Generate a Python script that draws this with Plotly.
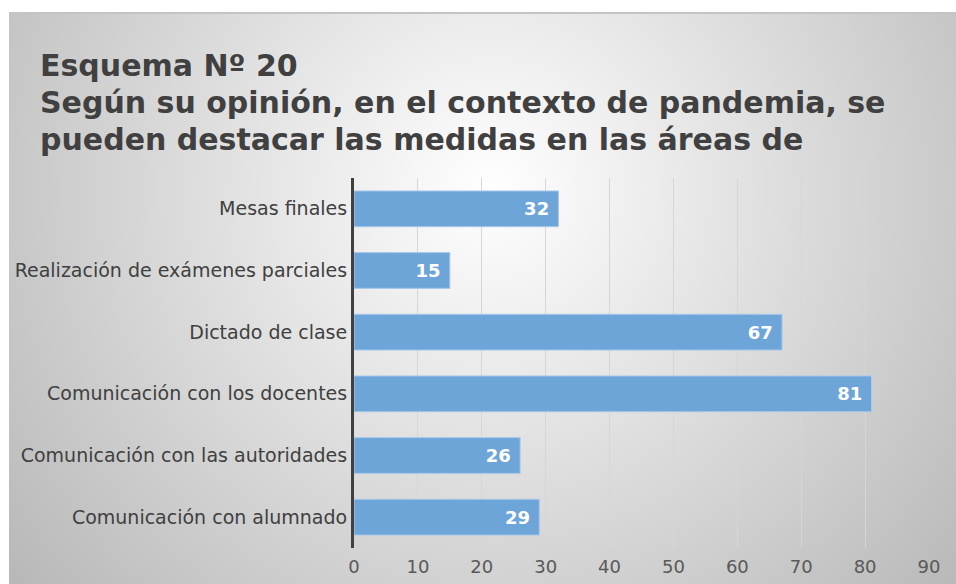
import numpy as np
import plotly.graph_objects as go

# Survey answers (count of responses per area)
categories = [
    "Mesas finales",
    "Realización de exámenes parciales",
    "Dictado de clase",
    "Comunicación con los docentes",
    "Comunicación con las autoridades",
    "Comunicación con alumnado",
]
values = [32, 15, 67, 81, 26, 29]
x_ticks = [0, 10, 20, 30, 40, 50, 60, 70, 80, 90]

title_lines = [
    "Esquema Nº 20",
    "Según su opinión, en el contexto de pandemia, se",
    "pueden destacar las medidas en las áreas de",
]

W, H = 956, 584
FONT = "DejaVu Sans"

# Radial grey background (light centre, darker towards the edges)
gx = np.arange(-16, W + 33, 16)
gy = np.arange(-16, H + 33, 16)
cx, cy = 490, 190
dist = np.sqrt((gx[None, :] - cx) ** 2 + (gy[:, None] - cy) ** 2)
shade = np.clip(255 - 0.115 * dist, 0, 255)

fig = go.Figure()

fig.add_trace(go.Heatmap(
    x=gx, y=gy, z=shade, zmin=0, zmax=255,
    colorscale=[[0, "rgb(0,0,0)"], [1, "rgb(255,255,255)"]],
    zsmooth="best", showscale=False, hoverinfo="skip",
    xaxis="x", yaxis="y",
))

fig.add_trace(go.Bar(
    x=values, y=categories, orientation="h",
    marker=dict(color="#6ea5d9", line=dict(color="#a9c9ea", width=1)),
    text=[f"{v}\u00a0" for v in values],
    textposition="inside", insidetextanchor="end", textangle=0,
    textfont=dict(family=FONT, size=18, color="white", weight="bold"),
    width=0.58, hoverinfo="skip",
    xaxis="x2", yaxis="y2",
))

# Title: one annotation per line so each baseline sits where it should
title_annotations = [
    dict(
        text=line, xref="paper", yref="paper",
        x=38 / W, y=1 - base / H,
        xanchor="left", yanchor="bottom", align="left", showarrow=False,
        font=dict(family=FONT, size=30, color="#404040", weight="bold"),
    )
    for line, base in zip(title_lines, [85, 122, 159])
]

fig.update_layout(
    width=W, height=H, autosize=False,
    margin=dict(l=0, r=0, t=0, b=0, pad=0, autoexpand=False),
    paper_bgcolor="white",
    plot_bgcolor="rgba(0,0,0,0)",
    showlegend=False,
    font=dict(family=FONT, color="#404040"),
    xaxis=dict(domain=[9 / W, 1], range=[9, W], visible=False,
               fixedrange=True, automargin=False),
    yaxis=dict(domain=[0, 1 - 13 / H], range=[H, 13], visible=False,
               fixedrange=True, automargin=False),
    xaxis2=dict(
        domain=[354 / W, 929 / W], range=[0, 90], anchor="y2", automargin=False,
        tickvals=x_ticks, ticks="", showgrid=True, gridcolor="#d6d6d6", gridwidth=1,
        zeroline=False, showline=False, ticklabelstandoff=6,
        tickfont=dict(family=FONT, size=18, color="#595959"),
    ),
    yaxis2=dict(
        domain=[36 / H, 406 / H], anchor="x2", automargin=False,
        categoryorder="array", categoryarray=categories, autorange="reversed",
        showline=True, linecolor="#404040", linewidth=3,
        ticks="", ticklabelstandoff=0, showgrid=False,
        tickfont=dict(family=FONT, size=19, color="#404040"),
    ),
    annotations=title_annotations,
    shapes=[dict(
        type="line", xref="paper", yref="paper",
        x0=9 / W, x1=1, y0=1 - 13 / H, y1=1 - 13 / H,
        line=dict(color="#c4c4c4", width=2),
    )],
)

fig.write_html("out.html")
